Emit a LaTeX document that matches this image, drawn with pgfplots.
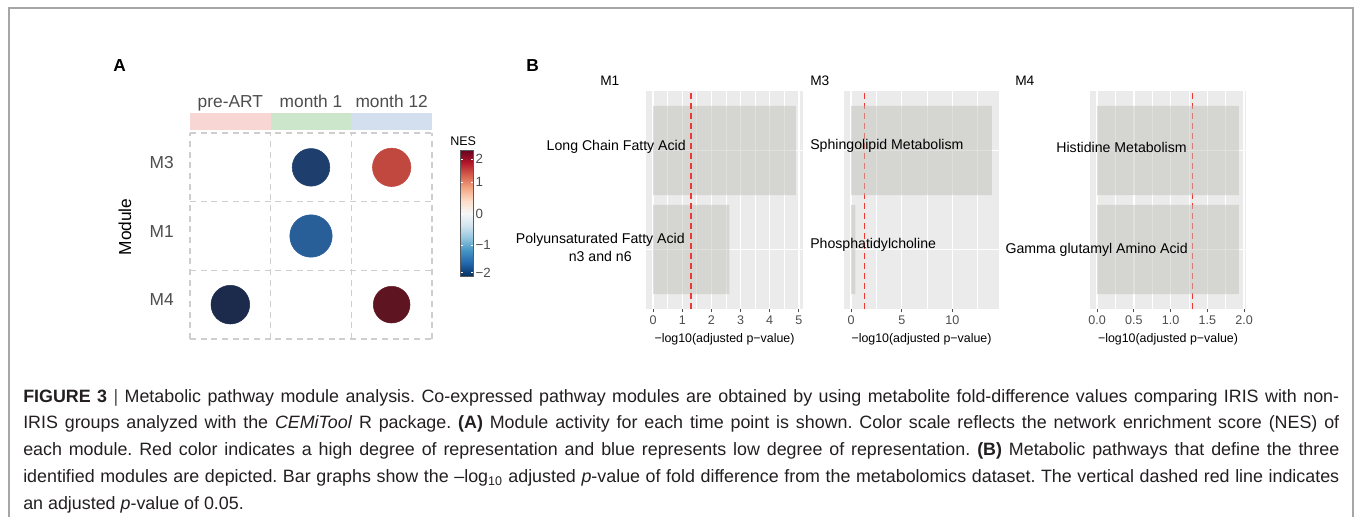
\documentclass[border=0pt]{standalone}
\usepackage{fontspec}
\setmainfont{Liberation Sans}
\usepackage{pgfplots}
\pgfplotsset{compat=1.18}
\frenchspacing

\definecolor{txtgray}{RGB}{77,77,77}
\definecolor{capblack}{RGB}{35,31,32}
\definecolor{framegray}{RGB}{166,166,166}
\definecolor{cellgray}{RGB}{206,206,206}
\definecolor{ggbg}{RGB}{235,235,235}
\definecolor{barfill}{RGB}{192,194,186}
\definecolor{pline}{RGB}{238,56,52}
\definecolor{stripA}{RGB}{248,214,211}
\definecolor{stripB}{RGB}{204,230,204}
\definecolor{stripC}{RGB}{211,223,238}
\definecolor{cbframe}{RGB}{90,90,90}
% circle colours (NES)
\definecolor{nesMthreeA}{RGB}{30,62,110}
\definecolor{nesMthreeB}{RGB}{192,72,62}
\definecolor{nesMone}{RGB}{41,95,152}
\definecolor{nesMfourA}{RGB}{28,42,76}
\definecolor{nesMfourB}{RGB}{95,20,33}

\pgfplotsset{
  ggpanel/.style={
    anchor=south west, scale only axis, height=163.5pt,
    ymin=0.4, ymax=2.6, ytick={1,2}, yticklabels={{},{}}, ytick style={draw=none},
    axis background/.style={fill=ggbg},
    axis line style={draw=none},
    xmajorgrids, ymajorgrids, xminorgrids,
    major grid style={white, line width=1.1pt},
    minor grid style={white, line width=0.55pt},
    xtick pos=bottom, tick align=outside,
    major tick length=2.5pt, minor tick length=0pt,
    xtick style={draw=txtgray, line width=0.75pt},
    xticklabel style={font=\fontsize{9.4}{11}\selectfont, text=txtgray,
      inner sep=0pt, anchor=north, yshift=-2.5pt},
    xlabel={−log10(adjusted p−value)},
    xlabel style={font=\fontsize{9.3}{11}\selectfont, at={(rel axis cs:0.5,0)},
      anchor=base, yshift=-24.75pt, inner sep=0pt},
  },
  pbar/.style={xbar, bar width=0.9, fill=barfill, fill opacity=0.5, draw=none},
  pcut/.style={pline, line width=1.1pt, dash pattern=on 4.5pt off 3pt},
}

\newcommand\capline[1]{\makebox[987pt][s]{#1}}

\begin{document}
\begin{tikzpicture}
\begin{scope}[x=0.75pt,y=-0.75pt]
\useasboundingbox (0,0) rectangle (1355,517);
\draw[framegray, line width=1.1pt] (9,517) -- (9,8) -- (1353,8) -- (1353,517);
\coordinate (Abox) at (190,339);
\coordinate (Bone) at (646,309);
\coordinate (Bthree) at (844,309);
\coordinate (Bfour) at (1090,309);
\end{scope}

% ---- panel A: module activity
\begin{axis}[
  at={(Abox)}, anchor=south west, scale only axis,
  width=181.5pt, height=154.5pt,
  xmin=0.5, xmax=3.5, ymin=0.5, ymax=3.5,
  xtick={1,2,3}, xticklabels={pre-ART,month 1,month 12},
  ytick={1,2,3}, yticklabels={M4,M1,M3},
  minor xtick={0.5,1.5,2.5,3.5}, minor ytick={0.5,1.5,2.5,3.5},
  xminorgrids, yminorgrids,
  minor grid style={cellgray, line width=1.1pt, dash pattern=on 4.5pt off 3.5pt},
  major tick length=0pt, minor tick length=0pt,
  axis line style={draw=none},
  xticklabel pos=upper,
  tick label style={font=\fontsize{13}{15}\selectfont, text=txtgray, inner sep=0pt},
  xticklabel style={anchor=base, yshift=19.5pt},
  yticklabel style={anchor=east, xshift=-12pt, yshift=3.5pt},
  clip=false,
]
\fill[stripA] ([yshift=2.25pt]axis cs:0.5,3.5) rectangle ([yshift=15pt]axis cs:1.5,3.5);
\fill[stripB] ([yshift=2.25pt]axis cs:1.5,3.5) rectangle ([yshift=15pt]axis cs:2.5,3.5);
\fill[stripC] ([yshift=2.25pt]axis cs:2.5,3.5) rectangle ([yshift=15pt]axis cs:3.5,3.5);
\addplot[only marks, mark=*, mark size=14.1pt, color=nesMthreeA] coordinates {(2,3)};
\addplot[only marks, mark=*, mark size=14.4pt, color=nesMthreeB] coordinates {(3,3)};
\addplot[only marks, mark=*, mark size=15.9pt, color=nesMone] coordinates {(2,2)};
\addplot[only marks, mark=*, mark size=14.5pt, color=nesMfourA] coordinates {(1,1)};
\addplot[only marks, mark=*, mark size=13.75pt, color=nesMfourB] coordinates {(3,1)};
\end{axis}

% ---- NES colour bar
\begin{axis}[
  at={(Abox)}, anchor=south west, scale only axis,
  width=181.5pt, height=154.5pt,
  xmin=0, xmax=1, ymin=0, ymax=1,
  xtick=\empty, ytick=\empty, axis line style={draw=none},
  colormap={rdbu}{rgb255=(5,48,97) rgb255=(33,102,172) rgb255=(67,147,195)
    rgb255=(146,197,222) rgb255=(209,229,240) rgb255=(247,247,247)
    rgb255=(253,219,199) rgb255=(244,165,130) rgb255=(214,96,77)
    rgb255=(178,24,43) rgb255=(103,0,31)},
  point meta min=-2.18, point meta max=2.25,
  colorbar right,
  colorbar style={
    at={(parent axis.north east)}, anchor=north west,
    xshift=12.75pt, yshift=-12.75pt,
    scale only axis, width=9.75pt, height=94.5pt,
    ytick={-2.07,-1.09,0,1.12,1.93},
    yticklabels={−2,−1,0,1,2},
    yticklabel style={font=\fontsize{10}{12}\selectfont, text=txtgray,
      inner sep=0pt, anchor=west, xshift=1.5pt},
    major tick length=2pt, tick align=inside,
    ytick style={draw=white, line width=0.6pt},
    axis line style={draw=cbframe, line width=0.5pt},
  },
]
\end{axis}

% ---- panel B: M1
\begin{axis}[ggpanel, at={(Bone)}, width=117.75pt,
  xmin=-0.245, xmax=5.145,
  xtick={0,1,2,3,4,5}, xticklabels={0,1,2,3,4,5},
  minor xtick={0.5,1.5,2.5,3.5,4.5}]
\addplot[pbar] coordinates {(4.9,2) (2.62,1)};
\addplot[pcut] coordinates {(1.301,0.4) (1.301,2.6)};
\end{axis}

% ---- panel B: M3
\begin{axis}[ggpanel, at={(Bthree)}, width=116.25pt,
  xmin=-0.695, xmax=14.595,
  xtick={0,5,10}, xticklabels={0,5,10},
  minor xtick={2.5,7.5,12.5}]
\addplot[pcut] coordinates {(1.301,0.4) (1.301,2.6)};
\addplot[pbar] coordinates {(13.9,2) (0.42,1)};
\end{axis}

% ---- panel B: M4
\begin{axis}[ggpanel, at={(Bfour)}, width=117pt,
  xmin=-0.0965, xmax=2.0265,
  xtick={0,0.5,1,1.5,2}, xticklabels={0.0,0.5,1.0,1.5,2.0},
  minor xtick={0.25,0.75,1.25,1.75}]
\addplot[pcut] coordinates {(1.301,0.4) (1.301,2.6)};
\addplot[pbar] coordinates {(1.93,2) (1.93,1)};
\end{axis}

\begin{scope}[x=0.75pt,y=-0.75pt,
  lab/.style={font=\fontsize{10.6}{13}\selectfont, inner sep=0pt},
  ttl/.style={font=\fontsize{10.3}{12}\selectfont, inner sep=0pt},
  pan/.style={font=\bfseries\fontsize{13}{15}\selectfont, inner sep=0pt}]
\node[pan, anchor=base west] at (113,71) {A};
\node[pan, anchor=base west] at (526,71) {B};
\node[rotate=90, font=\fontsize{13}{15}\selectfont, inner sep=0pt] at (125,227) {Module};
\node[font=\fontsize{9.4}{11}\selectfont, inner sep=0pt, anchor=base west] at (450,145) {NES};
% facet titles
\node[ttl, anchor=base west] at (600,85) {M1};
\node[ttl, anchor=base west] at (810,85) {M3};
\node[ttl, anchor=base west] at (1015,85) {M4};
% pathway labels
\node[lab, anchor=base east] at (686,150) {Long Chain Fatty Acid};
\node[lab, anchor=base east] (pufa) at (685,243) {Polyunsaturated Fatty Acid};
\node[lab, anchor=base] at ([yshift=-13.5pt]pufa.base) {n3 and n6};
\node[lab, anchor=base west] at (810,149) {Sphingolipid Metabolism};
\node[lab, anchor=base west] at (810,248) {Phosphatidylcholine};
\node[lab, anchor=base east] at (1187,152) {Histidine Metabolism};
\node[lab, anchor=base east] at (1188,253) {Gamma glutamyl Amino Acid};
% caption
\begin{scope}[every node/.style={font=\fontsize{13.4}{20}\selectfont, text=capblack,
  inner sep=0pt, anchor=base west}]
\node at (23,402) {\capline{\textbf{FIGURE 3} {\color{txtgray}|} Metabolic pathway module analysis. Co-expressed pathway modules are obtained by using metabolite fold-difference values comparing IRIS with non-}};
\node at (23,428.75) {\capline{IRIS groups analyzed with the \textit{CEMiTool} R package. \textbf{(A)} Module activity for each time point is shown. Color scale reflects the network enrichment score (NES) of}};
\node at (23,455.5) {\capline{each module. Red color indicates a high degree of representation and blue represents low degree of representation. \textbf{(B)} Metabolic pathways that define the three}};
\node at (23,482.25) {\capline{identified modules are depicted. Bar graphs show the –log\textsubscript{10} adjusted \textit{p}-value of fold difference from the metabolomics dataset. The vertical dashed red line indicates}};
\node at (23,509) {an adjusted \textit{p}-value of 0.05.};
\end{scope}
\end{scope}
\end{tikzpicture}
\end{document}
